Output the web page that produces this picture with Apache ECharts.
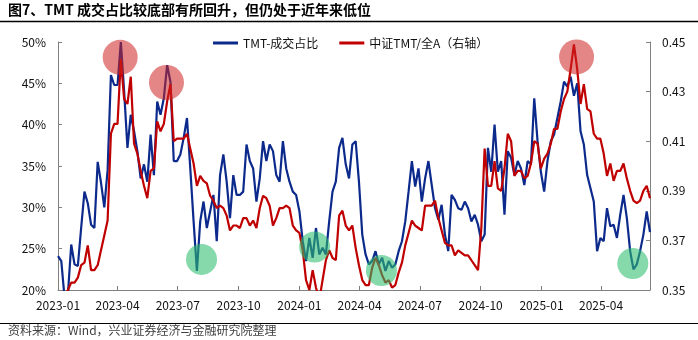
<!DOCTYPE html>
<html><head><meta charset="utf-8">
<script src="https://cdn.jsdelivr.net/npm/echarts@6/dist/echarts.min.js"></script>
<style>html,body{margin:0;padding:0;background:#fff}#c{width:698px;height:340px}</style>
</head><body><div id="c"></div>
<script>
const dates = [
'2023-01-01','2023-01-06','2023-01-11','2023-01-16','2023-01-21','2023-01-26','2023-01-31',
'2023-02-05','2023-02-10','2023-02-15','2023-02-20','2023-02-25',
'2023-03-02','2023-03-07','2023-03-12','2023-03-17','2023-03-22','2023-03-27',
'2023-04-01','2023-04-06','2023-04-11','2023-04-16','2023-04-21','2023-04-26',
'2023-05-01','2023-05-06','2023-05-11','2023-05-16','2023-05-21','2023-05-26','2023-05-31',
'2023-06-05','2023-06-10','2023-06-15','2023-06-20','2023-06-25','2023-06-30',
'2023-07-05','2023-07-10','2023-07-15','2023-07-20','2023-07-25','2023-07-30',
'2023-08-04','2023-08-09','2023-08-14','2023-08-19','2023-08-24','2023-08-29',
'2023-09-03','2023-09-08','2023-09-13','2023-09-18','2023-09-23','2023-09-28',
'2023-10-03','2023-10-08','2023-10-13','2023-10-18','2023-10-23','2023-10-28',
'2023-11-02','2023-11-07','2023-11-12','2023-11-17','2023-11-22','2023-11-27',
'2023-12-02','2023-12-07','2023-12-12','2023-12-17','2023-12-22','2023-12-27',
'2024-01-01','2024-01-06','2024-01-11','2024-01-16','2024-01-21','2024-01-26','2024-01-31',
'2024-02-05','2024-02-10','2024-02-15','2024-02-20','2024-02-25',
'2024-03-01','2024-03-06','2024-03-11','2024-03-16','2024-03-21','2024-03-26','2024-03-31',
'2024-04-05','2024-04-10','2024-04-15','2024-04-20','2024-04-25','2024-04-30',
'2024-05-05','2024-05-10','2024-05-15','2024-05-20','2024-05-25','2024-05-30',
'2024-06-04','2024-06-09','2024-06-14','2024-06-19','2024-06-24','2024-06-29',
'2024-07-04','2024-07-09','2024-07-14','2024-07-19','2024-07-24','2024-07-29',
'2024-08-03','2024-08-08','2024-08-13','2024-08-18','2024-08-23','2024-08-28',
'2024-09-02','2024-09-07','2024-09-12','2024-09-17','2024-09-22','2024-09-27',
'2024-10-02','2024-10-07','2024-10-12','2024-10-17','2024-10-22','2024-10-27',
'2024-11-01','2024-11-06','2024-11-11','2024-11-16','2024-11-21','2024-11-26',
'2024-12-01','2024-12-06','2024-12-11','2024-12-16','2024-12-21','2024-12-26','2024-12-31',
'2025-01-05','2025-01-10','2025-01-15','2025-01-20','2025-01-25','2025-01-30',
'2025-02-04','2025-02-09','2025-02-14','2025-02-19','2025-02-24',
'2025-03-01','2025-03-06','2025-03-11','2025-03-16','2025-03-21','2025-03-26','2025-03-31',
'2025-04-05','2025-04-10','2025-04-15','2025-04-20','2025-04-25','2025-04-30',
'2025-05-05','2025-05-10','2025-05-15','2025-05-20','2025-05-25','2025-05-30',
'2025-06-04','2025-06-09','2025-06-14'
];

// TMT-成交占比 (%), left axis
const tmtShare = [
24.1,23.5,19.0,19.5,25.5,23.1,22.9,27.5,31.9,30.5,27.9,27.5,35.5,33.0,30.0,34.5,46.0,44.8,44.8,50.0,44.0,37.2,41.2,39.2,36.8,33.5,35.2,33.1,38.8,33.9,42.8,41.2,43.2,47.2,45.2,35.6,
35.6,36.4,38.4,40.8,34.7,28.3,22.3,28.3,30.7,27.5,29.5,31.5,25.9,33.9,36.4,33.1,28.7,33.9,31.5,31.5,31.9,37.6,35.6,34.7,30.7,33.5,38.0,35.6,37.6,36.8,33.9,33.1,38.0,34.7,33.1,31.9,31.5,
29.5,25.9,23.5,26.3,23.9,27.5,24.3,25.1,24.3,28.3,31.9,33.1,37.2,38.4,35.2,33.5,37.6,38.0,33.1,26.7,24.3,23.1,23.5,24.7,23.1,23.9,22.3,23.5,22.7,23.1,24.7,25.9,28.3,31.9,35.6,32.5,
34.7,30.7,33.5,35.6,32.7,29.9,28.5,30.3,26.7,24.7,31.5,30.9,29.9,29.7,30.7,29.9,28.3,29.1,27.9,25.9,26.7,37.2,34.3,40.0,34.3,35.6,29.1,36.8,36.0,33.9,35.6,34.7,32.7,35.6,35.2,43.2,
38.0,34.3,31.9,35.6,38.0,38.8,40.8,42.8,45.2,44.6,45.8,43.5,45.0,39.2,37.6,33.9,32.3,30.7,24.7,26.3,25.9,29.9,27.7,27.9,26.3,29.1,31.5,28.7,24.7,22.5,23.1,24.7,26.7,29.5,27.0
];

// 中证TMT/全A, right axis
const tmtRatio = [
0.347,0.347,0.347,0.350,0.353,0.353,0.355,0.360,0.361,0.368,0.358,0.358,0.360,0.366,0.372,0.378,0.413,0.417,0.417,0.443,0.427,0.425,0.436,0.409,0.405,0.398,0.392,0.387,0.398,0.399,0.418,0.414,0.417,0.426,0.433,0.410,
0.411,0.411,0.411,0.413,0.407,0.401,0.392,0.396,0.394,0.393,0.388,0.386,0.383,0.384,0.383,0.380,0.374,0.376,0.376,0.375,0.379,0.379,0.376,0.378,0.375,0.383,0.388,0.387,0.384,0.376,0.379,0.383,0.383,0.384,0.383,0.376,0.374,
0.373,0.366,0.354,0.350,0.358,0.351,0.346,0.354,0.362,0.366,0.363,0.362,0.380,0.382,0.376,0.374,0.376,0.367,0.360,0.354,0.352,0.352,0.359,0.363,0.360,0.356,0.353,0.354,0.351,0.352,0.357,0.361,0.368,0.373,0.378,0.376,
0.375,0.374,0.384,0.384,0.384,0.386,0.379,0.374,0.369,0.368,0.368,0.364,0.366,0.365,0.364,0.364,0.362,0.360,0.358,0.375,0.407,0.392,0.392,0.402,0.391,0.390,0.399,0.413,0.410,0.396,0.398,0.398,0.395,0.396,0.401,0.410,
0.409,0.399,0.403,0.405,0.409,0.415,0.415,0.422,0.427,0.430,0.439,0.449,0.439,0.425,0.433,0.423,0.422,0.413,0.411,0.411,0.405,0.396,0.401,0.394,0.398,0.398,0.401,0.395,0.390,0.386,0.385,0.386,0.390,0.392,0.387
];

// highlighted peaks / troughs (date, left-axis %)
const peakMarks = [['2023-04-05', 48.15], ['2023-06-14', 45.1], ['2025-02-23', 48.2]];
const troughMarks = [['2023-08-06', 23.7], ['2024-01-24', 25.2], ['2024-05-04', 22.35], ['2025-05-19', 23.2]];

const FONT = '"Noto Sans CJK SC", "Noto Sans", sans-serif';
const BLUE = '#0c2a8c';
const RED = '#c00000';
const AXIS = '#808080';

function fmtDate(v) {
  const d = new Date(v);
  return d.getFullYear() + '-' + String(d.getMonth() + 1).padStart(2, '0');
}

const chart = echarts.init(document.getElementById('c'), null, {renderer: 'canvas'});
chart.setOption({
  animation: false,
  backgroundColor: '#fff',
  textStyle: {fontFamily: FONT},
  graphic: [
    {type: 'text', left: 8, top: 3, style: {text: '图7、TMT 成交占比较底部有所回升，但仍处于近年来低位', font: 'bold 14px ' + FONT, fill: '#000'}},
    {type: 'line', shape: {x1: 0, y1: 21.5, x2: 698, y2: 21.5}, style: {stroke: '#000', lineWidth: 1.5}},
    {type: 'line', shape: {x1: 0, y1: 323.5, x2: 698, y2: 323.5}, style: {stroke: '#000', lineWidth: 1.2}},
    {type: 'text', left: 8, top: 324, style: {text: '资料来源：Wind，兴业证券经济与金融研究院整理', font: '12px ' + FONT, fill: '#404040'}}
  ],
  legend: {
    data: ['TMT-成交占比', '中证TMT/全A（右轴）'],
    left: 208, top: 32, itemWidth: 25, itemHeight: 3, itemGap: 21, icon: 'rect',
    textStyle: {fontSize: 12, color: '#111', fontFamily: FONT}
  },
  grid: {left: 58, right: 48, top: 42, bottom: 50, containLabel: false},
  xAxis: {
    type: 'time', min: '2023-01-01', max: '2025-06-14', splitNumber: 9,
    axisLine: {lineStyle: {color: AXIS, width: 1}},
    axisTick: {show: true, inside: true, length: 4, lineStyle: {color: AXIS}},
    axisLabel: {formatter: fmtDate, color: '#111', fontSize: 12, margin: 9, fontFamily: FONT, hideOverlap: false},
    splitLine: {show: false}
  },
  yAxis: [
    {
      type: 'value', min: 20, max: 50, interval: 5, position: 'left',
      axisLine: {show: true, lineStyle: {color: AXIS}},
      axisTick: {show: true, inside: true, length: 4, lineStyle: {color: AXIS}},
      axisLabel: {formatter: '{value}%', color: '#111', fontSize: 12, margin: 12, fontFamily: FONT},
      splitLine: {show: false}
    },
    {
      type: 'value', min: 0.35, max: 0.45, interval: 0.02, position: 'right',
      axisLine: {show: true, lineStyle: {color: AXIS}},
      axisTick: {show: true, inside: true, length: 4, lineStyle: {color: AXIS}},
      axisLabel: {formatter: v => v.toFixed(2), color: '#111', fontSize: 12, margin: 12, fontFamily: FONT},
      splitLine: {show: false}
    }
  ],
  series: [
    {
      name: 'TMT-成交占比', type: 'line', yAxisIndex: 0, showSymbol: false, symbol: 'none',
      data: dates.map((d, i) => [d, tmtShare[i]]),
      lineStyle: {color: BLUE, width: 2.2}, itemStyle: {color: BLUE}, z: 2
    },
    {
      name: '中证TMT/全A（右轴）', type: 'line', yAxisIndex: 1, showSymbol: false, symbol: 'none',
      data: dates.map((d, i) => [d, tmtRatio[i]]),
      lineStyle: {color: RED, width: 2.2}, itemStyle: {color: RED}, z: 3
    },
    {
      name: 'marks', type: 'line', yAxisIndex: 0, data: [], z: 5,
      markPoint: {
        symbol: 'circle', silent: true, label: {show: false}, animation: false,
        data: peakMarks.map(p => ({coord: p, symbolSize: 35, itemStyle: {color: 'rgba(205,35,35,0.55)'}}))
          .concat(troughMarks.map(p => ({coord: p, symbolSize: 31, itemStyle: {color: 'rgba(45,190,110,0.58)'}})))
      }
    }
  ]
});
</script></body></html>
